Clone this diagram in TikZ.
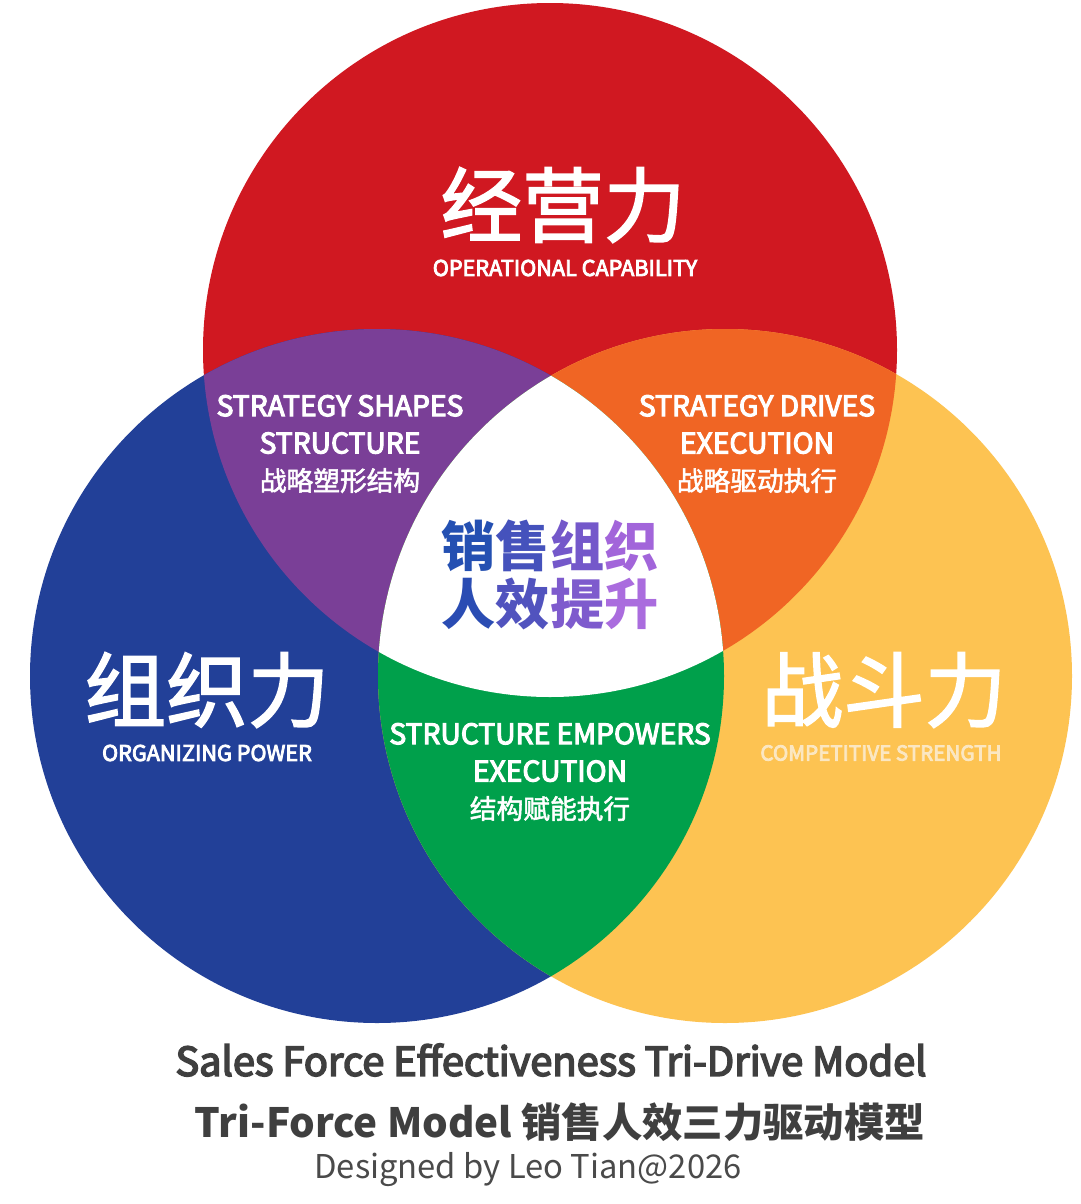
\documentclass[tikz,border=0pt]{standalone}
\usepackage{fontspec}
\setmainfont{Noto Sans CJK SC}
\newfontfamily\medf{Noto Sans CJK SC}[FakeBold=2]
\newfontfamily\semif{Noto Sans CJK SC}[FakeBold=4]
\definecolor{cred}{HTML}{D01821}
\definecolor{cblue}{HTML}{224098}
\definecolor{cyellow}{HTML}{FDC352}
\definecolor{cpurple}{HTML}{7A3F97}
\definecolor{corange}{HTML}{F06524}
\definecolor{cgreen}{HTML}{00A04B}
\definecolor{ccream}{HTML}{FBE7C2}
\definecolor{ctitle}{HTML}{3F3F3F}
\definecolor{csub}{HTML}{4A4A4A}
\definecolor{ga}{HTML}{2450B2}
\definecolor{gb}{HTML}{4552BC}
\definecolor{gc}{HTML}{7458CA}
\definecolor{gd}{HTML}{A265DA}
\definecolor{ge}{HTML}{2A4CB3}
\definecolor{gf}{HTML}{5153BE}
\definecolor{gg}{HTML}{7E5BCD}
\definecolor{gh}{HTML}{AA6CDE}
\newcommand\eng{\semif\fontsize{20.1}{26.5}\selectfont}
\newcommand\chn{\medf\fontsize{19}{26.5}\selectfont}
\begin{document}
\begin{tikzpicture}[x=0.025cm,y=-0.025cm,
  bigtxt/.style={text=white,font=\medf\fontsize{58}{60}\selectfont,inner sep=0},
  captxt/.style={text=white,font=\semif\fontsize{15.4}{17}\selectfont,inner sep=0},
  lentxt/.style={text=white,align=center,font=\fontsize{19}{26.5}\selectfont,inner sep=0},
  foot/.style={inner sep=0}]
\useasboundingbox (0,0) rectangle (1080,1204);
\fill[white] (0,0) rectangle (1080,1204);
\def\rc{(550,350) circle (347)}
\def\bc{(377,676) circle (347)}
\def\yc{(725,676) circle (347)}
% base circles
\fill[cred] \rc;
\fill[cblue] \bc;
\fill[cyellow] \yc;
% pairwise intersections
\begin{scope}\clip \rc; \fill[cpurple] \bc; \end{scope}
\begin{scope}\clip \rc; \fill[corange] \yc; \end{scope}
\begin{scope}\clip \bc; \fill[cgreen] \yc; \end{scope}
\begin{scope}\clip \rc; \clip \bc; \fill[white] \yc; \end{scope}
% main labels
\node[bigtxt] (jyl) at (563,205) {经营力};
\node[captxt] (jyle) at (565,268) {OPERATIONAL CAPABILITY};
\node[bigtxt] (zzl) at (207,690) {组织力};
\node[captxt] (zzle) at (207,753) {ORGANIZING POWER};
\node[bigtxt] (zdl) at (884,690) {战斗力};
\node[captxt,text=ccream,font=\semif\fontsize{14.7}{17}\selectfont] (zdle) at (881,753) {COMPETITIVE STRENGTH};
% intersection labels
\node[lentxt] (ss) at (340,444) {\eng STRATEGY SHAPES\\\eng STRUCTURE\\\chn 战略塑形结构};
\node[lentxt] (sd) at (757,444) {\eng STRATEGY DRIVES\\\eng EXECUTION\\\chn 战略驱动执行};
\node[lentxt] (se) at (550,772) {\eng STRUCTURE EMPOWERS\\\eng EXECUTION\\\chn 结构赋能执行};
% center
\node[inner sep=0,align=center,font=\bfseries\fontsize{38.5}{41}\selectfont] (core) at (550,575)
  {\textcolor{ga}{销}\textcolor{gb}{售}\textcolor{gc}{组}\textcolor{gd}{织}\\
   \textcolor{ge}{人}\textcolor{gf}{效}\textcolor{gg}{提}\textcolor{gh}{升}};
% footer
\node[foot,text=ctitle,font=\semif\fontsize{28.3}{30}\selectfont] (t1) at (551,1060) {Sales Force Effectiveness Tri-Drive Model};
\node[foot,text=ctitle,font=\bfseries\fontsize{28.7}{30}\selectfont] (t2) at (560,1122) {Tri-Force Model 销售人效三力驱动模型};
\node[foot,text=csub,font=\fontsize{23.3}{25}\selectfont] (t3) at (528,1170) {Designed by Leo Tian@2026};
\end{tikzpicture}
\end{document}
